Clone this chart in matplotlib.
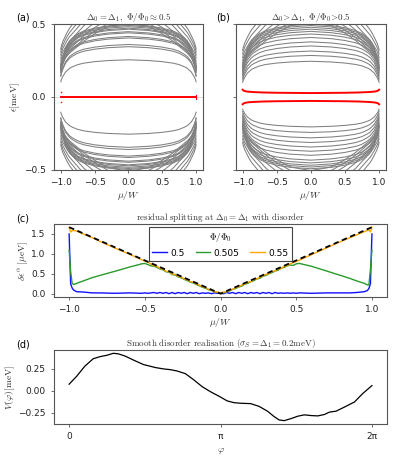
import numpy as np
import matplotlib.pyplot as plt

plt.rcParams["mathtext.fontset"] = "cm"
plt.rcParams["font.size"] = 6.5
plt.rcParams["axes.edgecolor"] = "#555555"
plt.rcParams["axes.linewidth"] = 0.8
plt.rcParams["xtick.color"] = "#555555"
plt.rcParams["ytick.color"] = "#555555"
plt.rcParams["xtick.labelcolor"] = "#222222"
plt.rcParams["ytick.labelcolor"] = "#222222"
plt.rcParams["xtick.major.size"] = 2.5
plt.rcParams["ytick.major.size"] = 2.5
plt.rcParams["xtick.major.width"] = 0.6
plt.rcParams["ytick.major.width"] = 0.6

# ---- panels (a), (b): level energies at mu=0 and edge profiles ----
mu_lv = [-1.0, -0.99, -0.97, -0.95, -0.93, -0.9, -0.87, -0.83, -0.75, -0.66, -0.5, -0.3,
         0.0, 0.3, 0.5, 0.66, 0.75, 0.83, 0.87, 0.9, 0.93, 0.95, 0.97, 0.99, 1.0]
# profile of the low levels (fraction of the mu=0 energy)
profile = [0.41, 0.47, 0.55, 0.61, 0.67, 0.72, 0.77, 0.81, 0.87, 0.91, 0.95, 0.98,
           1.0, 0.98, 0.95, 0.91, 0.87, 0.81, 0.77, 0.72, 0.67, 0.61, 0.55, 0.47, 0.41]
# profile of the high levels
profile_hi = [0.41, 0.44, 0.475, 0.50, 0.525, 0.56, 0.59, 0.62, 0.68, 0.75, 0.85, 0.95,
              1.0, 0.95, 0.85, 0.75, 0.68, 0.62, 0.59, 0.56, 0.525, 0.50, 0.475, 0.44, 0.41]

levels_a_pos = [0.255, 0.345, 0.36, 0.405, 0.415, 0.44, 0.448, 0.465, 0.472, 0.482,
                0.49, 0.497, 0.51, 0.53, 0.56, 0.6, 0.65, 0.7, 0.75, 0.8]
levels_a_neg = [-0.255, -0.345, -0.36, -0.405, -0.415, -0.44, -0.448, -0.465, -0.472, -0.482,
                -0.49, -0.497, -0.51, -0.53, -0.56, -0.6, -0.65, -0.7, -0.75, -0.8]
levels_b_pos = [0.245, 0.285, 0.315, 0.35, 0.378, 0.408, 0.432, 0.45, 0.465, 0.478,
                0.49, 0.5, 0.515, 0.54, 0.57, 0.61, 0.66, 0.72, 0.78]
levels_b_neg = [-0.205, -0.243, -0.28, -0.312, -0.343, -0.372, -0.4, -0.433, -0.452, -0.468,
                -0.48, -0.492, -0.505, -0.53, -0.56, -0.6, -0.65, -0.7, -0.76]

# red (lowest) states
mu_red_a = [-1.0, 1.0]
red_a = [0.0, 0.0]
red_a_dots_mu = [-1.0, -1.0]
red_a_dots = [0.035, -0.035]
red_a_tick_mu = [1.0, 1.0]
red_a_tick = [0.012, -0.012]

mu_red_b = [-1.0, -0.99, -0.97, -0.93, -0.85, -0.7, -0.5, 0.0,
            0.5, 0.7, 0.85, 0.93, 0.97, 0.99, 1.0]
red_b_up = [0.05, 0.045, 0.041, 0.037, 0.034, 0.031, 0.029, 0.027,
            0.029, 0.031, 0.034, 0.037, 0.041, 0.045, 0.05]
red_b_dn = [-0.05, -0.045, -0.041, -0.037, -0.034, -0.031, -0.029, -0.027,
            -0.029, -0.031, -0.034, -0.037, -0.041, -0.045, -0.05]

# ---- panel (c): residual splitting ----
mu_c = [-1.0, -0.99, -0.98, -0.97, -0.95, -0.9, -0.85, -0.8, -0.7, -0.6, -0.52, -0.5, -0.48,
        -0.46, -0.44, -0.42, -0.40, -0.38, -0.36, -0.34, -0.32, -0.30, -0.28, -0.26, -0.24,
        -0.22, -0.20, -0.18, -0.16, -0.14, -0.12, -0.10, -0.08, -0.06, -0.04, -0.02,
        0.0,
        0.02, 0.04, 0.06, 0.08, 0.10, 0.12, 0.14, 0.16, 0.18, 0.20, 0.22, 0.24, 0.26, 0.28,
        0.30, 0.32, 0.34, 0.36, 0.38, 0.40, 0.42, 0.44, 0.46, 0.48,
        0.5, 0.52, 0.6, 0.7, 0.8, 0.85, 0.9, 0.95, 0.97, 0.98, 0.99, 1.0]
split_05 = [1.50, 0.25, 0.14, 0.09, 0.05, 0.04, 0.02, 0.02, 0.01, 0.02, 0.01, 0.02, 0.01,
            0.02, 0.03, 0.01, 0.03, 0.01, 0.03, 0.00, 0.03, 0.00, 0.03, 0.01, 0.03,
            0.00, 0.03, 0.01, 0.03, 0.00, 0.02, 0.01, 0.02, 0.00, 0.02, 0.01,
            0.01,
            0.00, 0.03, 0.01, 0.03, 0.00, 0.03, 0.01, 0.03, 0.00, 0.03, 0.01, 0.03, 0.00, 0.03,
            0.01, 0.03, 0.00, 0.03, 0.01, 0.02, 0.01, 0.02, 0.01, 0.02,
            0.01, 0.02, 0.01, 0.02, 0.02, 0.02, 0.03, 0.05, 0.08, 0.13, 0.25, 1.50]
split_0505 = [1.10, 0.55, 0.26, 0.23, 0.26, 0.33, 0.40, 0.455, 0.56, 0.67, 0.75, 0.76, 0.73,
              0.70, 0.69, 0.66, 0.62, 0.60, 0.55, 0.54, 0.48, 0.47, 0.42, 0.40, 0.36,
              0.33, 0.29, 0.27, 0.23, 0.20, 0.16, 0.14, 0.10, 0.08, 0.05, 0.03,
              0.02,
              0.02, 0.05, 0.07, 0.11, 0.13, 0.17, 0.19, 0.24, 0.26, 0.30, 0.33, 0.37, 0.39, 0.44,
              0.46, 0.50, 0.53, 0.57, 0.59, 0.64, 0.66, 0.70, 0.72, 0.71,
              0.75, 0.76, 0.69, 0.57, 0.45, 0.39, 0.32, 0.26, 0.22, 0.22, 0.60, 1.10]
split_055 = [1.66, 1.55, 1.58, 1.59, 1.57, 1.49, 1.41, 1.32, 1.15, 0.99, 0.85, 0.82, 0.79,
             0.75, 0.70, 0.69, 0.63, 0.62, 0.56, 0.56, 0.49, 0.49, 0.43, 0.42, 0.37,
             0.35, 0.30, 0.29, 0.24, 0.22, 0.17, 0.16, 0.11, 0.09, 0.05, 0.04,
             0.02,
             0.04, 0.05, 0.09, 0.11, 0.15, 0.17, 0.22, 0.24, 0.29, 0.30, 0.36, 0.37, 0.42, 0.44,
             0.49, 0.50, 0.56, 0.57, 0.62, 0.63, 0.69, 0.70, 0.75, 0.78,
             0.81, 0.84, 0.98, 1.15, 1.32, 1.40, 1.48, 1.56, 1.59, 1.60, 1.55, 1.67]
mu_v = [-1.0, 0.0, 1.0]
split_v = [1.67, 0.0, 1.67]

# ---- panel (d): smooth disorder (phi in units of pi) ----
phi_pi = [0.0, 0.049, 0.104, 0.159, 0.204, 0.248, 0.292, 0.325, 0.369, 0.425, 0.491,
          0.569, 0.624, 0.668, 0.712, 0.768, 0.823, 0.878, 0.934, 0.989, 1.044, 1.088,
          1.133, 1.199, 1.254, 1.310, 1.354, 1.387, 1.420, 1.465, 1.509, 1.553, 1.597,
          1.642, 1.686, 1.719, 1.763, 1.819, 1.885, 1.940, 2.0]
V_phi = [0.074, 0.163, 0.28, 0.364, 0.388, 0.403, 0.426, 0.42, 0.395, 0.349, 0.298,
         0.264, 0.248, 0.240, 0.225, 0.194, 0.124, 0.047, -0.012, -0.062, -0.116, -0.136,
         -0.143, -0.147, -0.178, -0.233, -0.295, -0.333, -0.341, -0.318, -0.291, -0.275,
         -0.283, -0.287, -0.271, -0.244, -0.233, -0.186, -0.128, -0.031, 0.058]

txt = "#333333"
fig = plt.figure(figsize=(3.97, 4.63), dpi=100)
ax_a = fig.add_axes([0.136, 0.633, 0.375, 0.315])
ax_b = fig.add_axes([0.594, 0.633, 0.378, 0.315])
ax_c = fig.add_axes([0.136, 0.3585, 0.839, 0.158])
ax_d = fig.add_axes([0.136, 0.0842, 0.839, 0.160])

for ax, pos, neg in [(ax_a, levels_a_pos, levels_a_neg), (ax_b, levels_b_pos, levels_b_neg)]:
    for e0 in pos + neg:
        prof = np.array(profile_hi if abs(e0) > 0.5 else profile)
        ax.plot(mu_lv, e0 * prof, color="#808080", lw=0.75)
    ax.set_ylim(-0.5, 0.5)
    ax.set_xlim(-1.1, 1.1)
    ax.set_xticks([-1.0, -0.5, 0.0, 0.5, 1.0])
    ax.set_yticks([-0.5, 0.0, 0.5])
    ax.set_xlabel(r"$\mu/W$", color=txt, fontsize=7, labelpad=1)

ax_a.axhline(0, color="#cccccc", lw=0.5, zorder=1)
ax_a.plot(mu_red_a, red_a, color="red", lw=1.4)
ax_a.plot(red_a_dots_mu, red_a_dots, "s", color="red", ms=1.0, mew=0)
ax_a.plot(red_a_tick_mu, red_a_tick, color="red", lw=0.8)
ax_a.set_ylabel(r"$\epsilon[\mathrm{meV}]$", color=txt, fontsize=7, labelpad=1)
ax_a.set_title(r"$\Delta_0=\Delta_1,\ \Phi/\Phi_0\approx0.5$", color=txt, fontsize=6.5, pad=3)

ax_b.plot(mu_red_b, red_b_up, color="red", lw=1.4)
ax_b.plot(mu_red_b, red_b_dn, color="red", lw=1.4)
ax_b.set_yticklabels([])
ax_b.set_title(r"$\Delta_0\!>\!\Delta_1,\ \Phi/\Phi_0\!>\!0.5$", color=txt, fontsize=6.5, pad=3)

ax_c.plot(mu_c, split_05, color="#1010ff", lw=1.0, label="0.5")
ax_c.plot(mu_c, split_0505, color="#2a9a2a", lw=1.0, label="0.505")
ax_c.plot(mu_c, split_055, color="#ffa500", lw=1.0, label="0.55")
ax_c.plot(mu_v, split_v, color="black", lw=1.3, ls=(0, (3, 2)))
ax_c.set_xticks([-1.0, -0.5, 0.0, 0.5, 1.0])
ax_c.set_yticks([0.0, 0.5, 1.0, 1.5])
ax_c.set_xlabel(r"$\mu/W$", color=txt, fontsize=7, labelpad=1)
ax_c.set_ylabel(r"$\delta\epsilon^{\alpha}\ [\mu\mathrm{eV}]$", color=txt, fontsize=7, labelpad=1)
ax_c.set_title(r"$\mathrm{residual\ splitting\ at\ }\Delta_0=\Delta_1\mathrm{\ with\ disorder}$",
               color=txt, fontsize=6.5, pad=3)
leg = ax_c.legend(title=r"$\Phi/\Phi_0$", loc="upper center", ncol=3, fontsize=6.5,
                  title_fontsize=6.5, fancybox=False, edgecolor="#444444", framealpha=1,
                  handlelength=1.6, handletextpad=0.4, columnspacing=1.2, borderaxespad=0.4)
leg.get_frame().set_linewidth(0.8)

ax_d.plot(np.array(phi_pi) * np.pi, V_phi, color="black", lw=0.9)
ax_d.set_xticks([0, np.pi, 2 * np.pi])
ax_d.set_xticklabels(["0", "π", "2π"])
ax_d.set_yticks([-0.25, 0.0, 0.25])
ax_d.set_xlabel(r"$\varphi$", color=txt, fontsize=7, labelpad=3)
ax_d.set_ylabel(r"$V(\varphi)[\mathrm{meV}]$", color=txt, fontsize=7, labelpad=1)
ax_d.set_title(r"$\mathrm{Smooth\ disorder\ realisation\ }(\sigma_S=\Delta_1=0.2\mathrm{meV})$",
               color=txt, fontsize=6.5, pad=3)

fig.text(0.04, 0.955, "(a)", fontsize=7)
fig.text(0.545, 0.955, "(b)", fontsize=7)
fig.text(0.04, 0.522, "(c)", fontsize=7)
fig.text(0.04, 0.25, "(d)", fontsize=7)

fig.savefig("out.png", dpi=100)
